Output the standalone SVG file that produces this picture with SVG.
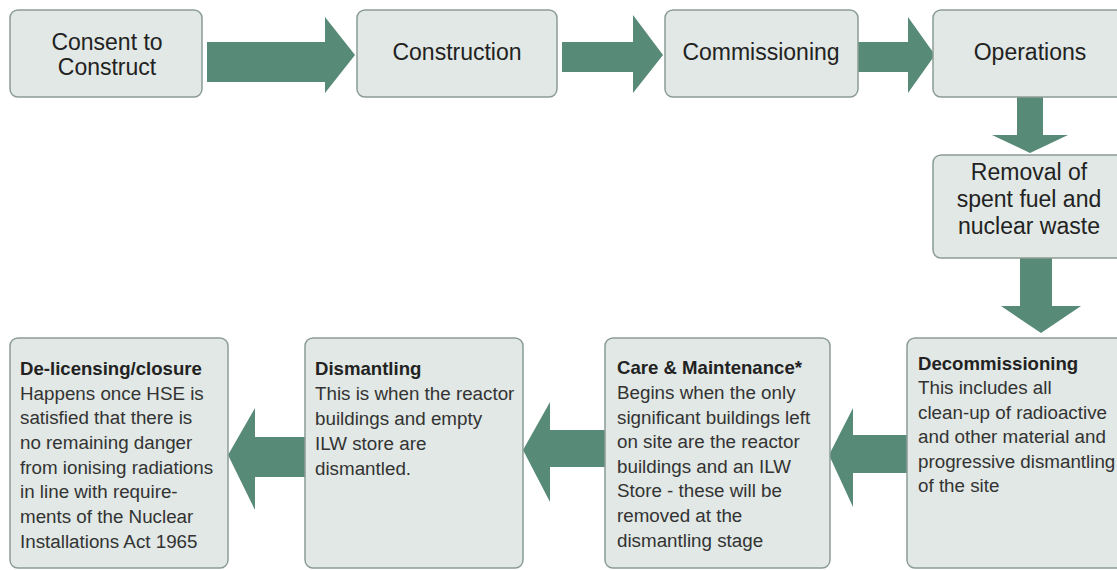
<svg xmlns="http://www.w3.org/2000/svg" width="1117" height="570" viewBox="0 0 1117 570">
<style>
.box{fill:#e1e8e5;stroke:#8c9c95;stroke-width:1.5}
.arr{fill:#588a78}
.big{font-family:"Liberation Sans",Arial,sans-serif;font-size:23px;fill:#222;text-anchor:middle}
.t{font-family:"Liberation Sans",Arial,sans-serif;font-size:18.6px;fill:#222;font-weight:bold}
.b{font-family:"Liberation Sans",Arial,sans-serif;font-size:18.8px;fill:#333}
</style>
<rect width="1117" height="570" fill="#ffffff"/>
<g id="connectors">
<polygon class="arr" points="207,42 325,42 325,17 355,55 325,93 325,82 207,82"/>
<polygon class="arr" points="562,42 633,42 633,15 663,55 633,93 633,72 562,72"/>
<polygon class="arr" points="858,42 908,42 908,17 935,55 908,93 908,72 858,72"/>
<polygon class="arr" points="1017,97 1043,97 1043,135 1068,135 1030,153 992,135 1017,135"/>
<polygon class="arr" points="1020,258 1052,258 1052,306 1081,306 1041,333 1001,306 1020,306"/>
<polygon class="arr" points="907,435 853,435 853,408 829,455 853,507 853,473 907,473"/>
<polygon class="arr" points="605,430 550,430 550,402 523,450 550,502 550,467 605,467"/>
<polygon class="arr" points="305,437 255,437 255,408 228,455 255,510 255,477 305,477"/>
</g>
<g id="consent">
<rect class="box" x="10" y="10" width="192" height="87" rx="8"/>
<text class="big" x="107" y="50">Consent to</text>
<text class="big" x="107" y="75">Construct</text>
</g>
<g id="construction">
<rect class="box" x="357" y="10" width="200" height="87" rx="8"/>
<text class="big" x="457" y="60">Construction</text>
</g>
<g id="commissioning">
<rect class="box" x="665" y="10" width="193" height="87" rx="8"/>
<text class="big" x="761" y="60">Commissioning</text>
</g>
<g id="operations">
<rect class="box" x="933" y="10" width="194" height="87" rx="8"/>
<text class="big" x="1030" y="60">Operations</text>
</g>
<g id="removal">
<rect class="box" x="933" y="155" width="194" height="103" rx="8"/>
<text class="big" x="1029" y="180">Removal of</text>
<text class="big" x="1029" y="207">spent fuel and</text>
<text class="big" x="1029" y="234">nuclear waste</text>
</g>
<g id="decommissioning">
<rect class="box" x="907" y="338" width="220" height="230" rx="8"/>
<text class="t" x="918" y="370">Decommissioning</text>
<text class="b" x="918" y="394">This includes all</text>
<text class="b" x="918" y="419">clean-up of radioactive</text>
<text class="b" x="918" y="443">and other material and</text>
<text class="b" x="918" y="468">progressive dismantling</text>
<text class="b" x="918" y="492">of the site</text>
</g>
<g id="care">
<rect class="box" x="605" y="338" width="225" height="230" rx="8"/>
<text class="t" x="617" y="374">Care &amp; Maintenance*</text>
<text class="b" x="617" y="399">Begins when the only</text>
<text class="b" x="617" y="424">significant buildings left</text>
<text class="b" x="617" y="448">on site are the reactor</text>
<text class="b" x="617" y="473">buildings and an ILW</text>
<text class="b" x="617" y="497">Store - these will be</text>
<text class="b" x="617" y="522">removed at the</text>
<text class="b" x="617" y="547">dismantling stage</text>
</g>
<g id="dismantling">
<rect class="box" x="305" y="338" width="218" height="230" rx="8"/>
<text class="t" x="315" y="375">Dismantling</text>
<text class="b" x="315" y="400">This is when the reactor</text>
<text class="b" x="315" y="425">buildings and empty</text>
<text class="b" x="315" y="450">ILW store are</text>
<text class="b" x="315" y="475">dismantled.</text>
</g>
<g id="delicensing">
<rect class="box" x="10" y="338" width="218" height="230" rx="8"/>
<text class="t" x="20" y="375">De-licensing/closure</text>
<text class="b" x="20" y="400">Happens once HSE is</text>
<text class="b" x="20" y="424">satisfied that there is</text>
<text class="b" x="20" y="449">no remaining danger</text>
<text class="b" x="20" y="474">from ionising radiations</text>
<text class="b" x="20" y="498">in line with require-</text>
<text class="b" x="20" y="523">ments of the Nuclear</text>
<text class="b" x="20" y="548">Installations Act 1965</text>
</g>
</svg>
